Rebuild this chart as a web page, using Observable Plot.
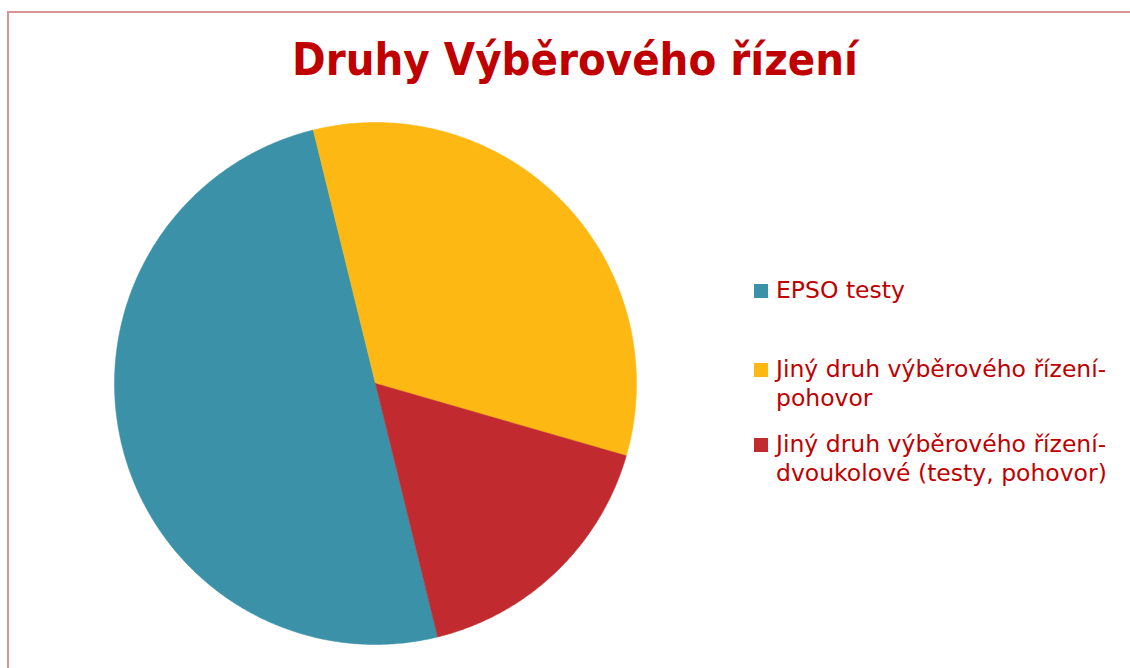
<!DOCTYPE html>
<html>
<head>
<meta charset="utf-8">
<script src="https://cdn.jsdelivr.net/npm/d3@7"></script>
<script src="https://cdn.jsdelivr.net/npm/@observablehq/plot@0.6"></script>
<style>
  html, body { margin: 0; padding: 0; background: #fff; }
  #wrap { position: relative; width: 1130px; height: 668px; overflow: hidden; font-family: "DejaVu Sans Condensed", "DejaVu Sans", sans-serif; }
  #frame { position: absolute; left: 7px; top: 11px; width: 1140px; height: 700px; border-left: 2px solid #D99594; border-top: 2px solid #D99594; box-sizing: border-box; }
  #title { position: absolute; left: 0; width: 1150px; top: 30px; text-align: center; color: #C00000; font-weight: bold; font-size: 45px; line-height: 60px; }
  #chart { position: absolute; left: 0; top: 0; }
  .leg { position: absolute; left: 754px; color: #C00000; font-family: "DejaVu Sans", sans-serif; font-size: 23.5px; line-height: 29px; }
  .leg .sw { position: absolute; left: 0; top: 8px; width: 14px; height: 14px; }
  .leg .tx { margin-left: 22px; white-space: nowrap; }
</style>
</head>
<body>
<div id="wrap">
  <div id="frame"></div>
  <div id="title">Druhy Výběrového řízení</div>
  <div id="chart"></div>
  <div id="legend"></div>
</div>
<script>
const categories = ["EPSO testy", "Jiný druh výběrového řízení-pohovor", "Jiný druh výběrového řízení-dvoukolové (testy, pohovor)"];
const legendLines = [["EPSO testy"], ["Jiný druh výběrového řízení-", "pohovor"], ["Jiný druh výběrového řízení-", "dvoukolové (testy, pohovor)"]];
const values = [50, 33.3, 16.7];
const colors = ["#3B91A7", "#FDB813", "#C12B2F"];
const firstSliceAngle = 166.2; // degrees clockwise from 12 o'clock

const pie = d3.pie().sort(null).value(d => d.value)
  .startAngle(firstSliceAngle * Math.PI / 180)
  .endAngle((firstSliceAngle + 360) * Math.PI / 180);
const slices = pie(categories.map((c, i) => ({cat: c, value: values[i]})));

const pts = [];
for (const s of slices) {
  pts.push({cat: s.data.cat, x: 0, y: 0});
  const n = Math.max(2, Math.ceil((s.endAngle - s.startAngle) / (Math.PI / 360)));
  for (let k = 0; k <= n; k++) {
    const a = s.startAngle + (s.endAngle - s.startAngle) * k / n;
    pts.push({cat: s.data.cat, x: Math.sin(a), y: Math.cos(a)});
  }
  pts.push({cat: s.data.cat, x: 0, y: 0});
}

const cx = 375, cy = 383, r = 261;
const chart = Plot.plot({
  width: 1130,
  height: 668,
  margin: 0,
  x: {domain: [-1, 1], range: [cx - r, cx + r], axis: null},
  y: {domain: [-1, 1], range: [cy + r, cy - r], axis: null},
  color: {domain: categories, range: colors},
  style: {background: "transparent"},
  marks: [
    Plot.line(pts, {x: "x", y: "y", z: "cat", fill: "cat", stroke: "cat", strokeWidth: 0.5, curve: "linear"})
  ]
});
document.getElementById("chart").appendChild(chart);

const legendTops = [276, 355, 430];
const legend = document.getElementById("legend");
legendLines.forEach((lines, i) => {
  const d = document.createElement("div");
  d.className = "leg";
  d.style.top = legendTops[i] + "px";
  const sw = document.createElement("div");
  sw.className = "sw";
  sw.style.background = colors[i];
  d.appendChild(sw);
  lines.forEach(l => {
    const t = document.createElement("div");
    t.className = "tx";
    t.textContent = l;
    d.appendChild(t);
  });
  legend.appendChild(d);
});
</script>
</body>
</html>
